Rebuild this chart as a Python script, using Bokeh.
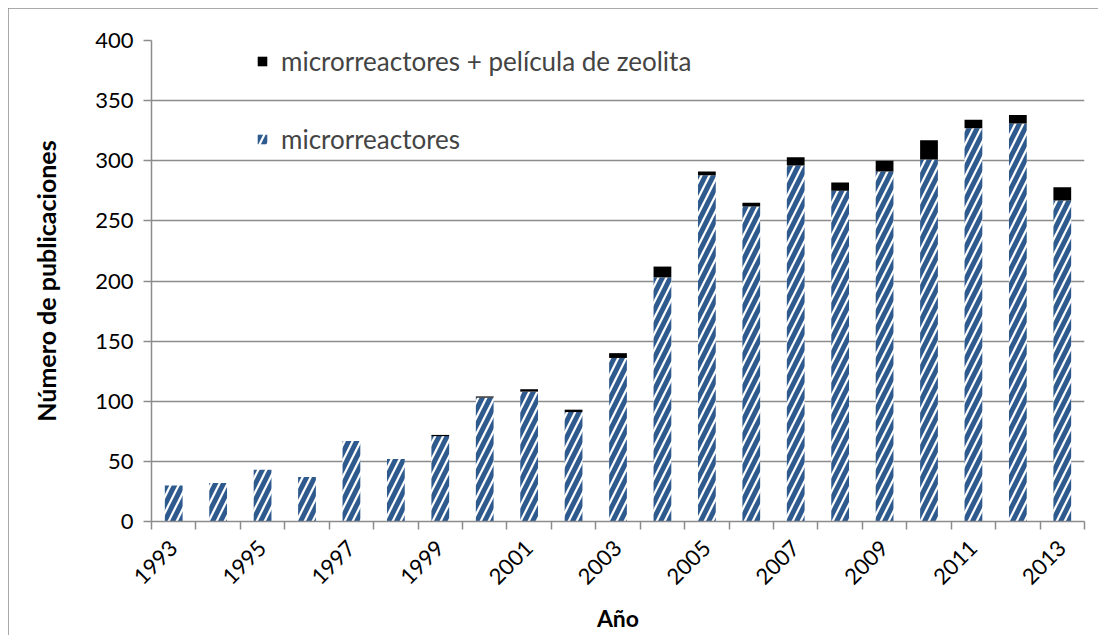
from bokeh.plotting import figure
from bokeh.models import FixedTicker, Legend, LegendItem, ColumnDataSource
from bokeh.embed import file_html
from bokeh.resources import INLINE
import math

years = list(range(1993, 2014))
micro = [30, 32, 43, 37, 67, 52, 71, 103, 108, 91, 136, 203, 288, 262, 296, 275, 291, 301, 327, 331, 267]
total = [30, 32, 43, 37, 67, 52, 72, 104, 110, 93, 140, 212, 291, 265, 303, 282, 300, 317, 334, 338, 278]
label_years = list(range(1993, 2014, 2))
y_ticks = list(range(0, 401, 50))

FONT = "Lato"
GRID = "#8c8c8c"

src = ColumnDataSource(dict(x=years, micro=micro, total=total))

p = figure(width=1090, height=627, x_range=(1992.5, 2013.5), y_range=(0, 400),
           output_backend="svg", toolbar_location=None,
           min_border_left=143, min_border_right=14, min_border_top=32, min_border_bottom=113)
p.margin = (8, 0, 0, 8)
p.styles = {"outline": "1.5px solid #8c8c8c", "outline-offset": "-1px"}
p.outline_line_color = None
p.background_fill_color = "white"

r_micro = p.vbar(x="x", top="micro", bottom=0, width=0.4, source=src,
                 fill_color="white", line_color=None,
                 hatch_pattern="/", hatch_color="#2E5A8E", hatch_scale=16, hatch_weight=5)
r_zeol = p.vbar(x="x", top="total", bottom="micro", width=0.4, source=src,
                fill_color="black", line_color=None)

p.xgrid.grid_line_color = None
p.ygrid.grid_line_color = GRID
p.ygrid.grid_line_width = 1.5
p.ygrid.ticker = FixedTicker(ticks=y_ticks)

p.yaxis.ticker = FixedTicker(ticks=y_ticks)
p.yaxis.axis_line_color = GRID
p.yaxis.axis_line_width = 1.5
p.yaxis.major_tick_line_color = GRID
p.yaxis.major_tick_line_width = 1.5
p.yaxis.major_tick_out = 8
p.yaxis.major_tick_in = 0
p.yaxis.minor_tick_line_color = None
p.yaxis.major_label_standoff = 10
p.yaxis.major_label_text_font = FONT
p.yaxis.major_label_text_font_size = "22px"
p.yaxis.major_label_text_color = "black"
p.yaxis.axis_label = "Número de publicaciones"
p.yaxis.axis_label_text_font = FONT
p.yaxis.axis_label_text_font_style = "bold"
p.yaxis.axis_label_text_font_size = "25px"
p.yaxis.axis_label_text_color = "black"
p.yaxis.axis_label_standoff = 31

bounds = [y - 0.5 for y in years] + [years[-1] + 0.5]
p.xaxis.ticker = FixedTicker(ticks=label_years, minor_ticks=bounds)
p.xaxis.axis_line_color = GRID
p.xaxis.axis_line_width = 1.5
p.xaxis.major_tick_line_color = None
p.xaxis.minor_tick_line_color = GRID
p.xaxis.minor_tick_line_width = 1.5
p.xaxis.minor_tick_out = 8
p.xaxis.minor_tick_in = 0
p.xaxis.major_tick_out = 0
p.xaxis.major_label_orientation = math.pi / 4
p.xaxis.major_label_standoff = 15
p.xaxis.major_label_text_font = FONT
p.xaxis.major_label_text_font_size = "22px"
p.xaxis.major_label_text_color = "black"
p.xaxis.axis_label = "Año"
p.xaxis.axis_label_text_font = FONT
p.xaxis.axis_label_text_font_style = "bold"
p.xaxis.axis_label_text_font_size = "23px"
p.xaxis.axis_label_text_color = "black"
p.xaxis.axis_label_standoff = 10

legend = Legend(items=[LegendItem(label="microrreactores + película de zeolita", renderers=[r_zeol]),
                       LegendItem(label="microrreactores", renderers=[r_micro])],
                location=(105, 366), orientation="vertical",
                glyph_width=12, glyph_height=12, label_standoff=13, spacing=46,
                padding=0, margin=0, border_line_color=None, background_fill_alpha=0,
                label_text_font=FONT, label_text_font_size="26px")
p.add_layout(legend, "center")

open("out.html", "w").write(file_html(p, INLINE))
